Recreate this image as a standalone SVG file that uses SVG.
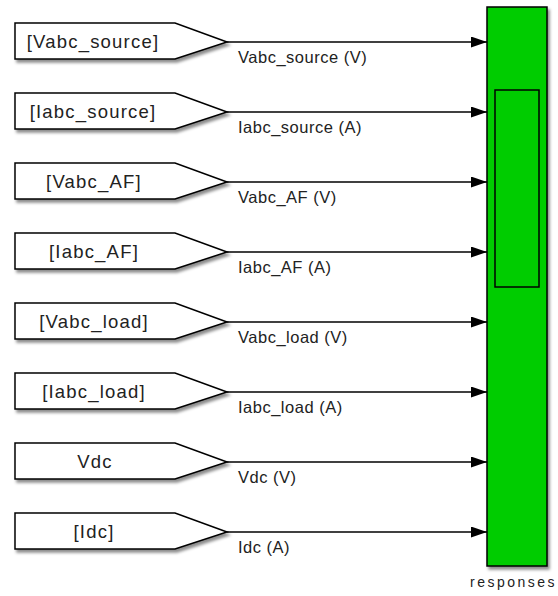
<svg xmlns="http://www.w3.org/2000/svg" width="558" height="596" viewBox="0 0 558 596">
<defs>
<filter id="sh" x="-10%" y="-20%" width="130%" height="160%">
<feDropShadow dx="2" dy="3" stdDeviation="1.6" flood-color="#000" flood-opacity="0.45"/>
</filter>
<marker id="ah" markerWidth="16" markerHeight="11" refX="16" refY="5.5" orient="auto" markerUnits="userSpaceOnUse">
<path d="M0,0 L16,5.5 L0,11 Z" fill="#000"/>
</marker>
<path id="from" d="M0,0 H160 L212,19 L160,36 H0 Z"/>
</defs>
<style>
.blk{fill:#fff;stroke:#000;stroke-width:1.5;filter:url(#sh)}
.bt{font-family:"Liberation Sans",Arial,sans-serif;font-size:18.5px;letter-spacing:1.2px;fill:#222;text-anchor:middle}
.lt{font-family:"Liberation Sans",Arial,sans-serif;font-size:16.5px;letter-spacing:0.5px;fill:#222}
.ln{stroke:#000;stroke-width:1.5;fill:none;marker-end:url(#ah)}
</style>
<g id="connectors">
<line class="ln" x1="227" y1="42" x2="487" y2="42"/>
<line class="ln" x1="227" y1="112" x2="487" y2="112"/>
<line class="ln" x1="227" y1="182" x2="487" y2="182"/>
<line class="ln" x1="227" y1="252" x2="487" y2="252"/>
<line class="ln" x1="227" y1="322" x2="487" y2="322"/>
<line class="ln" x1="227" y1="392" x2="487" y2="392"/>
<line class="ln" x1="227" y1="462" x2="487" y2="462"/>
<line class="ln" x1="227" y1="532" x2="487" y2="532"/>
<text class="lt" x="238" y="63">Vabc_source (V)</text>
<text class="lt" x="238" y="133">Iabc_source (A)</text>
<text class="lt" x="238" y="203">Vabc_AF (V)</text>
<text class="lt" x="238" y="273">Iabc_AF (A)</text>
<text class="lt" x="238" y="343">Vabc_load (V)</text>
<text class="lt" x="238" y="413">Iabc_load (A)</text>
<text class="lt" x="238" y="483">Vdc (V)</text>
<text class="lt" x="238" y="553">Idc (A)</text>
</g>
<g id="from_Vabc_source"><use href="#from" class="blk" x="15" y="23"/><text class="bt" x="93" y="48">[Vabc_source]</text></g>
<g id="from_Iabc_source"><use href="#from" class="blk" x="15" y="93"/><text class="bt" x="93" y="118">[Iabc_source]</text></g>
<g id="from_Vabc_AF"><use href="#from" class="blk" x="15" y="163"/><text class="bt" x="94" y="188">[Vabc_AF]</text></g>
<g id="from_Iabc_AF"><use href="#from" class="blk" x="15" y="233"/><text class="bt" x="94" y="258">[Iabc_AF]</text></g>
<g id="from_Vabc_load"><use href="#from" class="blk" x="15" y="303"/><text class="bt" x="94" y="328">[Vabc_load]</text></g>
<g id="from_Iabc_load"><use href="#from" class="blk" x="15" y="373"/><text class="bt" x="94" y="398">[Iabc_load]</text></g>
<g id="from_Vdc"><use href="#from" class="blk" x="15" y="443"/><text class="bt" x="95" y="468">Vdc</text></g>
<g id="from_Idc"><use href="#from" class="blk" x="15" y="513"/><text class="bt" x="94" y="538">[Idc]</text></g>
<g id="responses">
<rect x="487" y="7" width="60" height="559" fill="#00cc00" stroke="#000" stroke-width="1.5" filter="url(#sh)"/>
<rect x="495" y="90" width="44" height="197" fill="none" stroke="#000" stroke-width="1.5"/>
<text x="470" y="587" font-family="'Liberation Sans',Arial,sans-serif" font-size="14" letter-spacing="2.5" fill="#222">responses</text>
</g>
</svg>
